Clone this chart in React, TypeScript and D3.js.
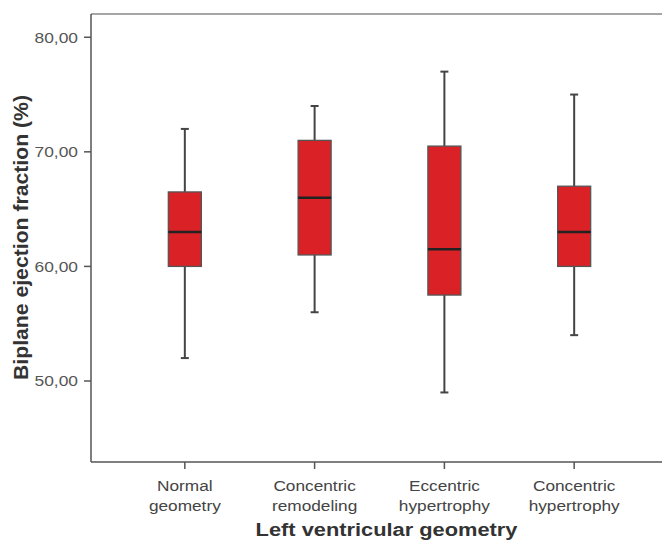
import React from "react";
import * as d3 from "d3";

const categories = [
  ["Normal", "geometry"],
  ["Concentric", "remodeling"],
  ["Eccentric", "hypertrophy"],
  ["Concentric", "hypertrophy"],
];
const whiskerLow = [52, 56, 49, 54];
const q1 = [60, 61, 57.5, 60];
const median = [63, 66, 61.5, 63];
const q3 = [66.5, 71, 70.5, 67];
const whiskerHigh = [72, 74, 77, 75];
const yTicks = [50, 60, 70, 80];

const width = 662;
const height = 540;
const left = 91;
const top = 14;
const bottom = 462;
const font = "'Liberation Sans', Arial, sans-serif";
const axisColor = "#555";

const App = () => {
  const keys = categories.map((c) => c.join(" "));
  const x = d3.scalePoint<string>().domain(keys).range([left, 668]).padding(0.723);
  const y = d3.scaleLinear().domain([42.93, 82.03]).range([bottom, top]);
  const boxW = 33;
  const capW = 8;

  return (
    <svg
      width={width}
      height={height}
      style={{ position: "absolute", left: 0, top: 0, background: "#fff" }}
    >
      {/* frame */}
      <line x1={left} x2={width} y1={top} y2={top} stroke="#888" strokeWidth={1.5} />
      <line x1={left} x2={left} y1={top} y2={bottom} stroke={axisColor} strokeWidth={1.5} />
      <line x1={left} x2={width} y1={bottom} y2={bottom} stroke={axisColor} strokeWidth={1.5} />

      {/* y ticks */}
      {yTicks.map((t) => (
        <g key={t}>
          <line x1={left - 7} x2={left} y1={y(t)} y2={y(t)} stroke={axisColor} strokeWidth={1.5} />
          <text
            transform={`translate(${left - 13},${y(t) + 5.5}) scale(1.16,1)`}
            textAnchor="end"
            fontFamily={font}
            fontSize={15}
            fill="#555"
          >
            {d3.format(".2f")(t).replace(".", ",")}
          </text>
        </g>
      ))}

      {/* x ticks and labels */}
      {categories.map((c, i) => {
        const cx = x(keys[i]) as number;
        return (
          <g key={i}>
            <line x1={cx} x2={cx} y1={bottom} y2={bottom + 7} stroke={axisColor} strokeWidth={1.5} />
            {c.map((w, j) => (
              <text
                key={j}
                transform={`translate(${cx},${491 + j * 20}) scale(1.15,1)`}
                textAnchor="middle"
                fontFamily={font}
                fontSize={15}
                fill="#444"
              >
                {w}
              </text>
            ))}
          </g>
        );
      })}

      {/* boxes */}
      {categories.map((c, i) => {
        const cx = x(keys[i]) as number;
        return (
          <g key={"b" + i}>
            <line x1={cx} x2={cx} y1={y(whiskerHigh[i])} y2={y(q3[i])} stroke="#444" strokeWidth={2} />
            <line x1={cx} x2={cx} y1={y(q1[i])} y2={y(whiskerLow[i])} stroke="#444" strokeWidth={2} />
            <line x1={cx - capW / 2} x2={cx + capW / 2} y1={y(whiskerHigh[i])} y2={y(whiskerHigh[i])} stroke="#444" strokeWidth={2} />
            <line x1={cx - capW / 2} x2={cx + capW / 2} y1={y(whiskerLow[i])} y2={y(whiskerLow[i])} stroke="#444" strokeWidth={2} />
            <rect
              x={cx - boxW / 2}
              y={y(q3[i])}
              width={boxW}
              height={y(q1[i]) - y(q3[i])}
              fill="#d92126"
              stroke="#555"
              strokeWidth={1.3}
            />
            <line x1={cx - boxW / 2} x2={cx + boxW / 2} y1={y(median[i])} y2={y(median[i])} stroke="#222" strokeWidth={2.5} />
          </g>
        );
      })}

      {/* axis titles */}
      <text
        transform={`translate(386.5,536) scale(1.18,1)`}
        textAnchor="middle"
        fontFamily={font}
        fontWeight="bold"
        fontSize={18.5}
        fill="#333"
      >
        Left ventricular geometry
      </text>
      <text
        transform={`translate(27.5,237.5) rotate(-90)`}
        textAnchor="middle"
        fontFamily={font}
        fontWeight="bold"
        fontSize={20}
        fill="#333"
        textLength={285}
        lengthAdjust="spacingAndGlyphs"
      >
        Biplane ejection fraction (%)
      </text>
    </svg>
  );
};

export default App;
